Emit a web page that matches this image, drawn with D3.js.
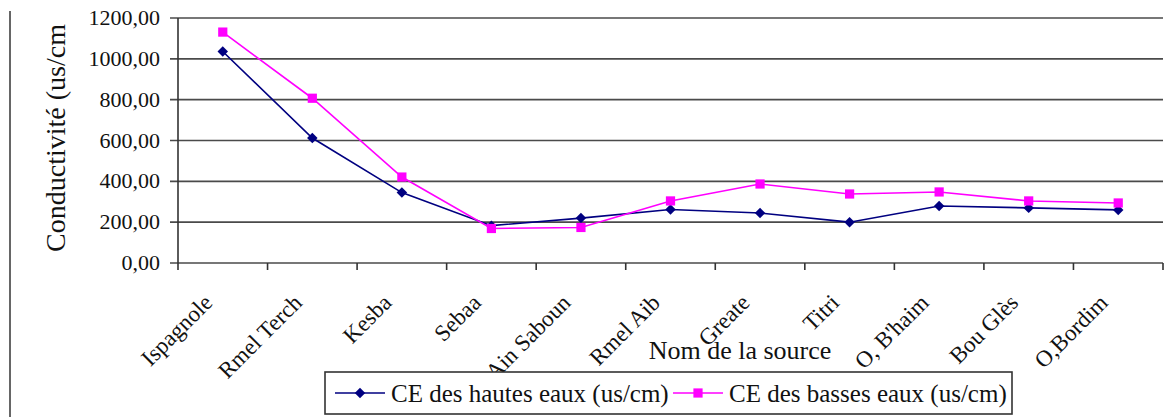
<!DOCTYPE html>
<html>
<head>
<meta charset="utf-8">
<script src="https://cdn.jsdelivr.net/npm/d3@7"></script>
<style>
  body { margin: 0; background: #fff; }
  svg text { font-family: "Liberation Serif", "DejaVu Serif", serif; fill: #111; }
</style>
</head>
<body>
<div id="chart"></div>
<script>
let sources = ['Ispagnole', 'Rmel Terch', 'Kesba', 'Sebaa', 'Ain Saboun', 'Rmel Aib',
  'Greate', 'Titri', "O, B'haim", 'Bou Glès', 'O,Bordim']
let hautes = [1036, 612, 345, 183, 220, 262, 245, 200, 279, 270, 260]
let basses = [1131, 807, 421, 169, 174, 304, 387, 338, 348, 304, 294]
let yTicks = [0, 200, 400, 600, 800, 1000, 1200]
let seriesNames = ['CE des hautes eaux (us/cm)', 'CE des basses eaux (us/cm)']

let width = 1170
let height = 417
let margin = { top: 18, left: 178, right: 7, bottom: 154 }
let plotW = width - margin.left - margin.right
let plotH = height - margin.top - margin.bottom
let serif = '"Liberation Serif", "DejaVu Serif", serif'

let svg = d3.select('#chart')
  .append('svg')
  .attr('width', width)
  .attr('height', height)
  .attr('font-family', serif)

let x = d3.scaleBand().domain(sources).range([0, plotW]).padding(0)
let y = d3.scaleLinear().domain([0, 1200]).range([plotH, 0])

let fr = d3.formatLocale({ decimal: ',', thousands: '', grouping: [3], currency: ['', ''] })
let fmt = fr.format('.2f')

// left frame line
svg.append('line')
  .attr('x1', 10).attr('x2', 10)
  .attr('y1', 11).attr('y2', height)
  .attr('stroke', '#333').attr('stroke-width', 1.5)

let g = svg.append('g').attr('transform', `translate(${margin.left},${margin.top})`)

// gridlines
g.selectAll('.grid')
  .data(yTicks)
  .enter()
  .append('line')
  .attr('class', 'grid')
  .attr('x1', -8)
  .attr('x2', plotW)
  .attr('y1', d => y(d))
  .attr('y2', d => y(d))
  .attr('stroke', '#4a4a4a')
  .attr('stroke-width', 1.6)

// y axis line
g.append('line')
  .attr('x1', 0).attr('x2', 0)
  .attr('y1', 0).attr('y2', plotH)
  .attr('stroke', '#333').attr('stroke-width', 1.6)

// y tick labels
g.selectAll('.ylab')
  .data(yTicks)
  .enter()
  .append('text')
  .attr('class', 'ylab')
  .attr('x', -18)
  .attr('y', d => y(d) + 7)
  .attr('text-anchor', 'end')
  .attr('font-size', 22)
  .text(d => fmt(d))

// x ticks at band edges
let edges = sources.map(d => x(d)).concat([plotW])
g.selectAll('.xtick')
  .data(edges)
  .enter()
  .append('line')
  .attr('class', 'xtick')
  .attr('x1', d => d).attr('x2', d => d)
  .attr('y1', plotH).attr('y2', plotH + 7)
  .attr('stroke', '#333').attr('stroke-width', 1.6)

// x labels
g.selectAll('.xlab')
  .data(sources)
  .enter()
  .append('text')
  .attr('class', 'xlab')
  .attr('text-anchor', 'end')
  .attr('font-size', 23)
  .attr('transform', d => `translate(${x(d) + x.bandwidth() / 2 - 9},${plotH + 41}) rotate(-45)`)
  .text(d => d)

// y title
svg.append('text')
  .attr('text-anchor', 'middle')
  .attr('font-size', 28)
  .attr('transform', 'translate(65,138) rotate(-90)')
  .text('Conductivité (us/cm')

// x title
svg.append('text')
  .attr('text-anchor', 'middle')
  .attr('font-size', 26)
  .attr('x', 740)
  .attr('y', 359)
  .text('Nom de la source')

// lines
let cx = d => x(d) + x.bandwidth() / 2
let line = d3.line()
  .x((d, i) => cx(sources[i]))
  .y(d => y(d))

let colors = ['#000080', '#ff00ff']
let diamond = d3.symbol().type(d3.symbolDiamond2).size(70)
let square = d3.symbol().type(d3.symbolSquare).size(85)

;[hautes, basses].forEach((vals, k) => {
  g.append('path')
    .datum(vals)
    .attr('d', line)
    .attr('fill', 'none')
    .attr('stroke', colors[k])
    .attr('stroke-width', 1.6)

  g.selectAll('.mk' + k)
    .data(vals)
    .enter()
    .append('path')
    .attr('class', 'mk' + k)
    .attr('d', k === 0 ? diamond : square)
    .attr('fill', colors[k])
    .attr('transform', (d, i) => `translate(${cx(sources[i])},${y(d)})`)
})

// legend
let legend = svg.append('g')
legend.append('rect')
  .attr('x', 325).attr('y', 372)
  .attr('width', 687).attr('height', 42)
  .attr('fill', '#fff')
  .attr('stroke', '#333').attr('stroke-width', 1.6)

let legX = [335, 673]
seriesNames.forEach((name, k) => {
  let lg = legend.append('g').attr('transform', `translate(${legX[k]},393)`)
  lg.append('line')
    .attr('x1', 0).attr('x2', 50)
    .attr('stroke', colors[k]).attr('stroke-width', 1.6)
  lg.append('path')
    .attr('d', k === 0 ? diamond : square)
    .attr('fill', colors[k])
    .attr('transform', 'translate(25,0)')
  lg.append('text')
    .attr('x', 56)
    .attr('y', 9)
    .attr('font-size', 25)
    .text(name)
})
</script>
</body>
</html>
